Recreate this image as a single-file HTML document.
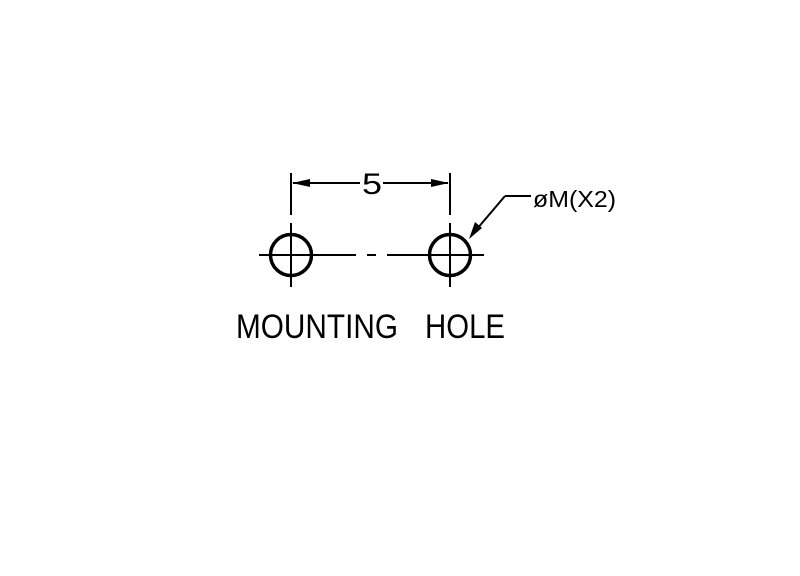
<!DOCTYPE html>
<html><head><meta charset="utf-8"><style>
html,body{margin:0;padding:0;background:#fff;}
svg{display:block;}
</style></head><body>
<svg width="800" height="576" viewBox="0 0 800 576" xmlns="http://www.w3.org/2000/svg">
<rect width="800" height="576" fill="#fff"/>
<g stroke="#000" fill="none" stroke-width="2">
  <line x1="291" y1="173" x2="291" y2="215"/>
  <line x1="450" y1="173" x2="450" y2="215"/>
  <line x1="293" y1="183" x2="360" y2="183"/>
  <line x1="383" y1="183" x2="448" y2="183"/>
  <line x1="291" y1="223" x2="291" y2="287"/>
  <line x1="450" y1="223" x2="450" y2="287"/>
  <line x1="259" y1="255" x2="356" y2="255"/>
  <line x1="367" y1="255" x2="376" y2="255"/>
  <line x1="387" y1="255" x2="484" y2="255"/>
  <line x1="471" y1="236" x2="505" y2="196"/>
  <line x1="505" y1="196" x2="531" y2="196"/>
</g>
<g stroke="#000" fill="none" stroke-width="3.5">
  <circle cx="291" cy="255" r="20.5"/>
  <circle cx="450" cy="255" r="20.5"/>
</g>
<g fill="#000">
  <polygon points="292,183 310,179 310,187"/>
  <polygon points="449,183 431,179 431,187"/>
  <polygon points="469,239 475,222 482,228"/>
</g>
<g font-family="'Liberation Sans', 'DejaVu Sans', sans-serif" fill="#000">
  <text x="362" y="194" font-size="30" textLength="20" lengthAdjust="spacingAndGlyphs">5</text>
  <text x="533" y="207" font-size="23" textLength="83" lengthAdjust="spacingAndGlyphs">øM(X2)</text>
  <text x="236" y="338" font-size="34" textLength="162" lengthAdjust="spacingAndGlyphs">MOUNTING</text>
  <text x="425" y="338" font-size="34" textLength="80" lengthAdjust="spacingAndGlyphs">HOLE</text>
</g>
</svg>
</body></html>
